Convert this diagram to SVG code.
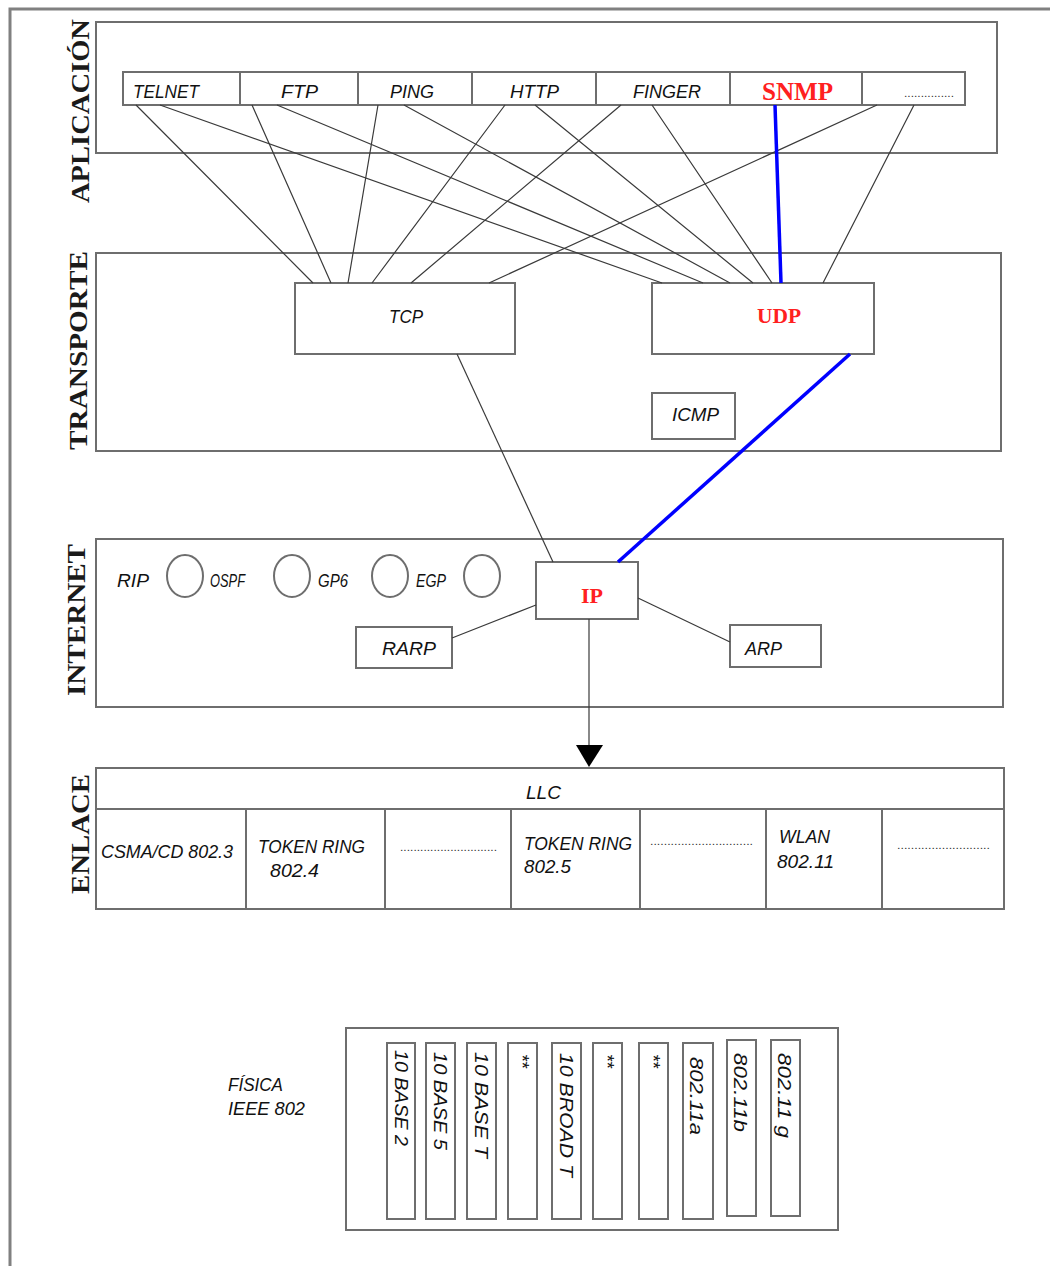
<svg xmlns="http://www.w3.org/2000/svg" width="1050" height="1266" viewBox="0 0 1050 1266">
<defs>
<style>
.frame{fill:none;stroke:#808080;stroke-width:3}
.box{fill:none;stroke:#6e6e6e;stroke-width:2}
.ln{fill:none;stroke:#3a3a3a;stroke-width:1.2}
.blue{fill:none;stroke:#0000ff;stroke-width:3.5}
.lbl{font-family:"Liberation Sans",Arial,sans-serif;font-style:italic;font-size:18px;fill:#111}
.layer{font-family:"Liberation Serif","Times New Roman",serif;font-weight:bold;font-size:26px;fill:#1a1a1a}
.red{font-family:"Liberation Serif","Times New Roman",serif;font-weight:bold;fill:#ff2020}
.dots{font-family:"Liberation Sans",Arial,sans-serif;font-size:11px;fill:#333}
</style>
</defs>
<rect width="1050" height="1266" fill="#ffffff"/>
<path class="frame" d="M10,1266 V9 H1050"/>

<g id="aplicacion">
<rect class="box" x="96" y="22" width="901" height="131"/>
<text class="layer" transform="translate(89,203) rotate(-90)" textLength="184" lengthAdjust="spacingAndGlyphs">APLICACIÓN</text>
<rect class="box" x="123" y="72" width="842" height="33"/>
<path class="box" d="M240,72V105M358,72V105M472,72V105M596,72V105M730,72V105M862,72V105"/>
</g>
<g id="telnet"><text class="lbl" x="133" y="98" textLength="66" lengthAdjust="spacingAndGlyphs">TELNET</text></g>
<g id="ftp"><text class="lbl" x="281" y="98" textLength="37" lengthAdjust="spacingAndGlyphs">FTP</text></g>
<g id="ping"><text class="lbl" x="390" y="98" textLength="44" lengthAdjust="spacingAndGlyphs">PING</text></g>
<g id="http"><text class="lbl" x="510" y="98" textLength="49" lengthAdjust="spacingAndGlyphs">HTTP</text></g>
<g id="finger"><text class="lbl" x="633" y="98" textLength="68" lengthAdjust="spacingAndGlyphs">FINGER</text></g>
<g id="snmp"><text class="red" x="762" y="100" font-size="25" textLength="71" lengthAdjust="spacingAndGlyphs">SNMP</text></g>
<g id="app-otros"><text class="dots" x="904" y="97" textLength="50" lengthAdjust="spacingAndGlyphs">...............</text></g>

<g id="transporte">
<rect class="box" x="96" y="253" width="905" height="198"/>
<text class="layer" transform="translate(87,450) rotate(-90)" textLength="199" lengthAdjust="spacingAndGlyphs">TRANSPORTE</text>
</g>
<g id="tcp">
<rect class="box" x="295" y="283" width="220" height="71"/>
<text class="lbl" x="389" y="323" textLength="34" lengthAdjust="spacingAndGlyphs">TCP</text>
</g>
<g id="udp">
<rect class="box" x="652" y="283" width="222" height="71"/>
<text class="red" x="757" y="323" font-size="21" textLength="44" lengthAdjust="spacingAndGlyphs">UDP</text>
</g>
<g id="icmp">
<rect class="box" x="652" y="393" width="83" height="46"/>
<text class="lbl" x="672" y="421" textLength="47" lengthAdjust="spacingAndGlyphs">ICMP</text>
</g>

<g id="internet">
<rect class="box" x="96" y="539" width="907" height="168"/>
<text class="layer" transform="translate(85,696) rotate(-90)" textLength="152" lengthAdjust="spacingAndGlyphs">INTERNET</text>
</g>
<g id="rip"><text class="lbl" x="117" y="587" textLength="32" lengthAdjust="spacingAndGlyphs">RIP</text><ellipse class="box" cx="185" cy="576" rx="18" ry="21"/></g>
<g id="ospf"><text class="lbl" x="210" y="587" textLength="35" lengthAdjust="spacingAndGlyphs">OSPF</text><ellipse class="box" cx="292" cy="576" rx="18" ry="21"/></g>
<g id="gp6"><text class="lbl" x="318" y="587" textLength="30" lengthAdjust="spacingAndGlyphs">GP6</text><ellipse class="box" cx="390" cy="576" rx="18" ry="21"/></g>
<g id="egp"><text class="lbl" x="416" y="587" textLength="30" lengthAdjust="spacingAndGlyphs">EGP</text><ellipse class="box" cx="482" cy="576" rx="18" ry="21"/></g>
<g id="ip">
<rect class="box" x="536" y="562" width="102" height="57"/>
<text class="red" x="581" y="603" font-size="21" textLength="22" lengthAdjust="spacingAndGlyphs">IP</text>
</g>
<g id="rarp">
<rect class="box" x="356" y="627" width="96" height="41"/>
<text class="lbl" x="382" y="655" textLength="54" lengthAdjust="spacingAndGlyphs">RARP</text>
</g>
<g id="arp">
<rect class="box" x="730" y="625" width="91" height="42"/>
<text class="lbl" x="745" y="655" textLength="37" lengthAdjust="spacingAndGlyphs">ARP</text>
</g>

<g id="enlace">
<rect class="box" x="96" y="768" width="908" height="141"/>
<text class="layer" transform="translate(89,894) rotate(-90)" textLength="120" lengthAdjust="spacingAndGlyphs">ENLACE</text>
<path class="box" d="M96,809H1004M246,809V909M385,809V909M511,809V909M640,809V909M766,809V909M882,809V909"/>
</g>
<g id="llc"><text class="lbl" x="526" y="799" textLength="35" lengthAdjust="spacingAndGlyphs">LLC</text></g>
<g id="csma"><text class="lbl" x="101" y="858" textLength="132" lengthAdjust="spacingAndGlyphs">CSMA/CD 802.3</text></g>
<g id="token4"><text class="lbl" x="258" y="853" textLength="107" lengthAdjust="spacingAndGlyphs">TOKEN RING</text><text class="lbl" x="270" y="877" textLength="49" lengthAdjust="spacingAndGlyphs">802.4</text></g>
<g id="enl-otros1"><text class="dots" x="400" y="851" textLength="97" lengthAdjust="spacingAndGlyphs">.............................</text></g>
<g id="token5"><text class="lbl" x="524" y="850" textLength="108" lengthAdjust="spacingAndGlyphs">TOKEN RING</text><text class="lbl" x="524" y="873" textLength="47" lengthAdjust="spacingAndGlyphs">802.5</text></g>
<g id="enl-otros2"><text class="dots" x="650" y="845" textLength="103" lengthAdjust="spacingAndGlyphs">..............................</text></g>
<g id="wlan"><text class="lbl" x="779" y="843" textLength="51" lengthAdjust="spacingAndGlyphs">WLAN</text><text class="lbl" x="777" y="868" textLength="57" lengthAdjust="spacingAndGlyphs">802.11</text></g>
<g id="enl-otros3"><text class="dots" x="897" y="849" textLength="93" lengthAdjust="spacingAndGlyphs">...........................</text></g>

<g id="fisica">
<text class="lbl" x="228" y="1091" textLength="55" lengthAdjust="spacingAndGlyphs">FÍSICA</text>
<text class="lbl" x="228" y="1115" textLength="77" lengthAdjust="spacingAndGlyphs">IEEE 802</text>
<rect class="box" x="346" y="1028" width="492" height="202"/>
</g>
<g id="f1"><rect class="box" x="387" y="1043" width="28" height="176"/><text class="lbl" transform="translate(395,1050) rotate(90)" textLength="96" lengthAdjust="spacingAndGlyphs">10 BASE 2</text></g>
<g id="f2"><rect class="box" x="426" y="1043" width="29" height="176"/><text class="lbl" transform="translate(434,1052) rotate(90)" textLength="98" lengthAdjust="spacingAndGlyphs">10 BASE 5</text></g>
<g id="f3"><rect class="box" x="467" y="1043" width="29" height="176"/><text class="lbl" transform="translate(475,1052) rotate(90)" textLength="106" lengthAdjust="spacingAndGlyphs">10 BASE T</text></g>
<g id="f4"><rect class="box" x="508" y="1043" width="29" height="176"/><text class="lbl" transform="translate(516,1054) rotate(90)">**</text></g>
<g id="f5"><rect class="box" x="552" y="1043" width="29" height="176"/><text class="lbl" transform="translate(560,1053) rotate(90)" textLength="124" lengthAdjust="spacingAndGlyphs">10 BROAD T</text></g>
<g id="f6"><rect class="box" x="593" y="1043" width="29" height="176"/><text class="lbl" transform="translate(601,1054) rotate(90)">**</text></g>
<g id="f7"><rect class="box" x="639" y="1043" width="29" height="176"/><text class="lbl" transform="translate(647,1054) rotate(90)">**</text></g>
<g id="f8"><rect class="box" x="683" y="1043" width="30" height="176"/><text class="lbl" transform="translate(690,1057) rotate(90)" textLength="78" lengthAdjust="spacingAndGlyphs">802.11a</text></g>
<g id="f9"><rect class="box" x="727" y="1040" width="29" height="176"/><text class="lbl" transform="translate(734,1053) rotate(90)" textLength="79" lengthAdjust="spacingAndGlyphs">802.11b</text></g>
<g id="f10"><rect class="box" x="771" y="1040" width="29" height="176"/><text class="lbl" transform="translate(778,1053) rotate(90)" textLength="85" lengthAdjust="spacingAndGlyphs">802.11 g</text></g>

<g id="connectors">
<path class="ln" d="M136,105L313,283M252,105L331,283M378,105L348,283M505,105L372,283M621,105L411,283M877,105L489,283"/>
<path class="ln" d="M160,105L662,283M277,105L703,283M404,105L730,283M535,105L753,283M652,105L772,283M914,105L823,283"/>
<path class="blue" d="M775,105L781,283"/>
<path class="ln" d="M457,354L553,562"/>
<path class="blue" d="M850,354L618,562"/>
<path class="ln" d="M452,638L536,605M638,598L730,642"/>
<path class="ln" d="M589,619V748"/>
<polygon points="576,745 603,745 589,767" fill="#000"/>
</g>
</svg>
